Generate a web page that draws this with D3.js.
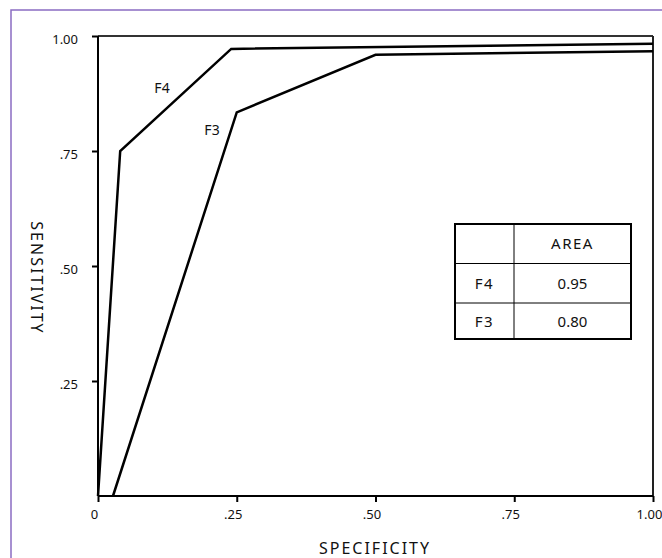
<html>
<head>
<style>
  body { margin: 0; background: #fff; }
  svg text { font-family: "Noto Sans", sans-serif; fill: #111; }
  .axis path, .axis line { stroke: #000; stroke-width: 2px; }
  .curve { fill: none; stroke: #000; stroke-width: 2.5px; stroke-linejoin: miter; }
  .tbl line { stroke: #000; }
</style>
</head>
<body>
<svg width="662" height="558"></svg>
<script src="https://d3js.org/d3.v7.min.js"></script>
<script>
// ROC points: [specificity, sensitivity]
const f4 = [[0, 0], [0.04, 0.75], [0.24, 0.972], [1.0, 0.983]]
const f3 = [[0.027, 0], [0.25, 0.834], [0.50, 0.959], [1.0, 0.967]]
const xTicks = [0, 0.25, 0.5, 0.75, 1]
const xTickLabels = ["0", ".25", ".50", ".75", "1.00"]
const yTicks = [0.25, 0.5, 0.75, 1]
const yTickLabels = [".25", ".50", ".75", "1.00"]
const tableRows = [["", "AREA"], ["F4", "0.95"], ["F3", "0.80"]]

const svg = d3.select("svg")

// purple frame
svg.append("rect")
  .attr("x", 11).attr("y", 10).attr("width", 700).attr("height", 600)
  .attr("fill", "none").attr("stroke", "#8a6cc2").attr("stroke-width", 1.5)

const x = d3.scaleLinear().domain([0, 1]).range([98, 653])
const y = d3.scaleLinear().domain([0, 1]).range([496, 36])

// box top and right
svg.append("line")
  .attr("x1", x(0)).attr("x2", x(1)).attr("y1", y(1)).attr("y2", y(1))
  .attr("stroke", "#333").attr("stroke-width", 2)
svg.append("line")
  .attr("x1", x(1)).attr("x2", x(1)).attr("y1", y(1)).attr("y2", y(0))
  .attr("stroke", "#222").attr("stroke-width", 2)

const xAxis = svg.append("g")
  .attr("class", "axis")
  .attr("transform", "translate(0," + y(0) + ")")
  .call(d3.axisBottom(x).tickValues(xTicks).tickSize(6).tickSizeOuter(0)
    .tickFormat((d, i) => xTickLabels[i]))
xAxis.selectAll("text")
  .attr("font-size", 13).attr("dy", "1.05em").attr("dx", -4)

const yAxis = svg.append("g")
  .attr("class", "axis")
  .attr("transform", "translate(" + x(0) + ",0)")
  .call(d3.axisLeft(y).tickValues(yTicks).tickSize(6).tickSizeOuter(0)
    .tickFormat((d, i) => yTickLabels[i]))
yAxis.selectAll("text")
  .attr("font-size", 13).attr("x", -20).attr("dy", "0.55em")
xAxis.select(".domain").attr("d", "M" + x(0) + ",0H" + x(1))
yAxis.select(".domain").attr("d", "M0," + y(0) + "V" + y(1))

const line = d3.line().x(d => x(d[0])).y(d => y(d[1]))
svg.append("path").datum(f4).attr("class", "curve").attr("d", line)
svg.append("path").datum(f3).attr("class", "curve").attr("d", line)

svg.append("text").attr("x", 162).attr("y", 93).attr("font-size", 14)
  .attr("text-anchor", "middle").text("F4")
svg.append("text").attr("x", 212).attr("y", 135).attr("font-size", 14)
  .attr("text-anchor", "middle").text("F3")

// axis titles
svg.append("text")
  .attr("x", 375).attr("y", 554).attr("font-size", 16)
  .attr("letter-spacing", 2).attr("text-anchor", "middle").text("SPECIFICITY")
svg.append("text")
  .attr("transform", "translate(31,278) rotate(90)")
  .attr("font-size", 16).attr("letter-spacing", 2)
  .attr("text-anchor", "middle").text("SENSITIVITY")

// area table
const tx = [455, 514, 631]
const ty = [224, 263.5, 303, 339]
const tbl = svg.append("g").attr("class", "tbl")
tbl.append("rect").attr("x", tx[0]).attr("y", ty[0])
  .attr("width", tx[2] - tx[0]).attr("height", ty[3] - ty[0])
  .attr("fill", "#fff").attr("stroke", "#000").attr("stroke-width", 2)
tbl.append("line").attr("x1", tx[1]).attr("x2", tx[1]).attr("y1", ty[0]).attr("y2", ty[3]).attr("stroke-width", 1)
tbl.selectAll(".hl").data([ty[1], ty[2]]).enter().append("line")
  .attr("x1", tx[0]).attr("x2", tx[2]).attr("y1", d => d).attr("y2", d => d).attr("stroke-width", 1)
tableRows.forEach((row, r) => {
  row.forEach((cell, c) => {
    tbl.append("text")
      .attr("x", (tx[c] + tx[c + 1]) / 2)
      .attr("y", (ty[r] + ty[r + 1]) / 2 + 5.5)
      .attr("font-size", 15).attr("letter-spacing", c === 0 || r === 0 ? 1.5 : 0)
      .attr("text-anchor", "middle").text(cell)
  })
})
</script>
</body>
</html>
